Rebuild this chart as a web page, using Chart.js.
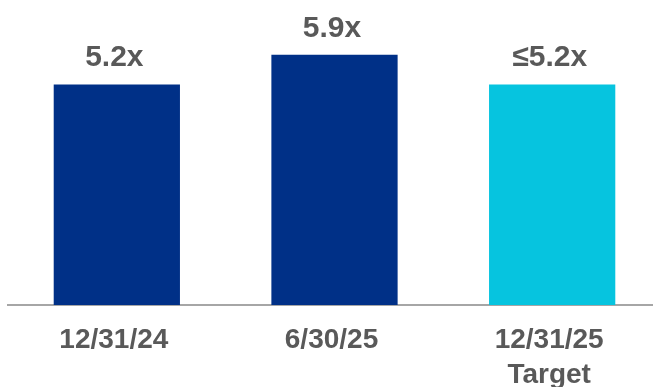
<!DOCTYPE html>
<html>
<head>
<meta charset="utf-8">
<script src="https://cdn.jsdelivr.net/npm/chart.js@4"></script>
<style>
  html, body { margin: 0; padding: 0; background: #fff; overflow: hidden; }
  #wrap { position: relative; width: 661px; height: 387px; }
</style>
</head>
<body>
<div id="wrap"><canvas id="leverageChart"></canvas></div>
<script>
const categories = [['12/31/24'], ['6/30/25'], ['12/31/25', 'Target']];
const leverage = [5.2, 5.9, 5.2];
const valueLabels = ['5.2x', '5.9x', '≤5.2x'];
const barColors = ['#003087', '#003087', '#06C4DF'];

// draws the "5.2x" style labels above each bar
const valueLabelPlugin = {
  id: 'valueLabels',
  afterDatasetsDraw(chart) {
    const ctx = chart.ctx;
    const meta = chart.getDatasetMeta(0);
    ctx.save();
    ctx.font = 'bold 30px Arial, "Liberation Sans", sans-serif';
    ctx.fillStyle = '#595959';
    ctx.textAlign = 'center';
    ctx.textBaseline = 'alphabetic';
    meta.data.forEach(function (bar, i) {
      ctx.fillText(valueLabels[i], bar.x - 2.5, bar.y - 18);
    });
    ctx.restore();
  }
};

document.addEventListener('DOMContentLoaded', function () {
  const ctx = document.getElementById('leverageChart').getContext('2d');
  new Chart(ctx, {
    type: 'bar',
    data: {
      labels: categories,
      datasets: [{
        data: leverage,
        backgroundColor: barColors,
        borderWidth: 0,
        barPercentage: 0.58,
        categoryPercentage: 1
      }]
    },
    options: {
      responsive: true,
      maintainAspectRatio: false,
      animation: false,
      layout: { padding: { left: 8, right: 0, top: 0, bottom: 0 } },
      plugins: {
        legend: { display: false },
        tooltip: { enabled: false }
      },
      scales: {
        y: {
          display: false,
          min: 0,
          max: 7.19
        },
        x: {
          afterFit: function (scale) { scale.height = 82; },
          grid: { display: false, drawTicks: false },
          border: { display: true, color: '#a6a6a6', width: 2 },
          ticks: {
            color: '#595959',
            padding: 18,
            labelOffset: -3,
            font: { family: 'Arial, "Liberation Sans", sans-serif', size: 28, weight: 'bold', lineHeight: 1.24 }
          }
        }
      }
    },
    plugins: [valueLabelPlugin]
  });
});
</script>
</body>
</html>
